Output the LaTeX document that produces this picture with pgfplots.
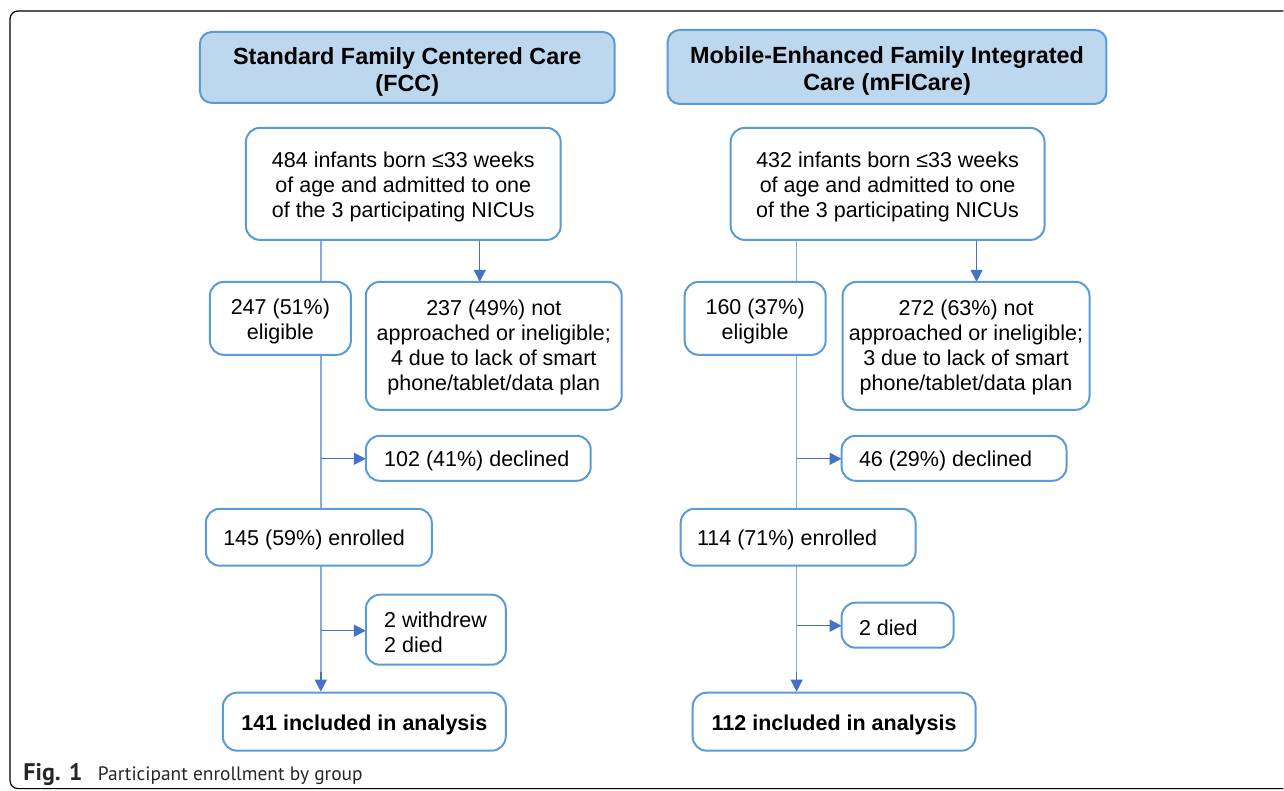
\documentclass[border=0pt]{standalone}
\usepackage{pgfplots}
\pgfplotsset{compat=1.18}
\usepackage{fontspec}
\setmainfont{Liberation Sans}
\newfontfamily\capfont{PT Sans}
\usetikzlibrary{arrows.meta}
\definecolor{hdrfill}{HTML}{BDD7EE}
\definecolor{bord}{HTML}{5B9BD5}
\definecolor{trunk}{HTML}{86A9DE}
\definecolor{arr}{HTML}{4472C4}
\begin{document}
\begin{tikzpicture}
\begin{axis}[hide axis, scale only axis, width=642pt, height=395.5pt,
  xmin=0, xmax=1284, ymin=0, ymax=791, y dir=reverse, clip=false]
\addplot[draw=none] coordinates {(0,0) (1284,791)};
% outer frame
\draw[black, line width=0.6pt, rounded corners=4pt] (axis cs:1284,11) -- (axis cs:10,11) -- (axis cs:10,789) -- (axis cs:1284,789);
\tikzset{bx/.style={draw=bord, line width=1pt, rounded corners=7pt, fill=white},
  hd/.style={draw=bord, line width=1pt, rounded corners=6pt, fill=hdrfill},
  tx/.style={font=\fontsize{10.75}{12.5}\selectfont, align=center, inner sep=0pt},
  txl/.style={font=\fontsize{10.75}{12.5}\selectfont, align=left, inner sep=0pt, anchor=west},
  tb/.style={font=\fontsize{11.7}{13.5}\selectfont\bfseries, align=center, inner sep=0pt},
  tr/.style={draw=trunk, line width=0.7pt},
  ar/.style={draw=arr, line width=0.7pt, -{Triangle[width=6pt,length=6pt]}}}
% ---------- trunks ----------
\draw[tr] (axis cs:321,240) -- (axis cs:321,672);
\draw[ar] (axis cs:321,672) -- (axis cs:321,692);
\draw[tr] (axis cs:797,240) -- (axis cs:797,672);
\draw[ar] (axis cs:797,672) -- (axis cs:797,692);
% side arrows left
\draw[ar] (axis cs:480,240) -- (axis cs:480,282);
\draw[ar] (axis cs:321,459) -- (axis cs:366,459);
\draw[ar] (axis cs:321,631) -- (axis cs:366,631);
% side arrows right
\draw[ar] (axis cs:977,240) -- (axis cs:977,282);
\draw[ar] (axis cs:797,459) -- (axis cs:842,459);
\draw[ar] (axis cs:797,626) -- (axis cs:842,626);
% ---------- left column ----------
\draw[hd] (axis cs:200,32) rectangle (axis cs:615,103);
\node[tb] at (axis cs:407.5,72) {Standard Family Centered Care\\(FCC)};
\draw[bx] (axis cs:246,128) rectangle (axis cs:561,240);
\node[tx] at (axis cs:403.5,187) {484 infants born ≤33 weeks\\of age and admitted to one\\of the 3 participating NICUs};
\draw[bx] (axis cs:210,282) rectangle (axis cs:351,355);
\node[tx] at (axis cs:280.5,322) {247 (51\%)\\eligible};
\draw[bx] (axis cs:366,282) rectangle (axis cs:622,410);
\node[tx] at (axis cs:494,348) {237 (49\%) not\\approached or ineligible;\\4 due to lack of smart\\phone/tablet/data plan};
\draw[bx] (axis cs:366,436) rectangle (axis cs:591,481);
\node[txl] at (axis cs:384,461) {102 (41\%) declined};
\draw[bx] (axis cs:206,509) rectangle (axis cs:432,566);
\node[txl] at (axis cs:223,540) {145 (59\%) enrolled};
\draw[bx] (axis cs:366,595) rectangle (axis cs:506,665);
\node[txl] at (axis cs:384,633) {2 withdrew\\2 died};
\draw[bx] (axis cs:223,693) rectangle (axis cs:506,751);
\node[tb, font=\fontsize{10.75}{12.5}\selectfont\bfseries] at (axis cs:364.5,725) {141 included in analysis};
% ---------- right column ----------
\draw[hd] (axis cs:668,30) rectangle (axis cs:1107,104);
\node[tb] at (axis cs:887.5,71) {Mobile-Enhanced Family Integrated\\Care (mFICare)};
\draw[bx] (axis cs:731,128) rectangle (axis cs:1045,240);
\node[tx] at (axis cs:888,187) {432 infants born ≤33 weeks\\of age and admitted to one\\of the 3 participating NICUs};
\draw[bx] (axis cs:685,282) rectangle (axis cs:826,355);
\node[tx] at (axis cs:755.5,322) {160 (37\%)\\eligible};
\draw[bx] (axis cs:843,282) rectangle (axis cs:1090,410);
\node[tx] at (axis cs:966.5,348) {272 (63\%) not\\approached or ineligible;\\3 due to lack of smart\\phone/tablet/data plan};
\draw[bx] (axis cs:842,436) rectangle (axis cs:1067,481);
\node[txl] at (axis cs:859,461) {46 (29\%) declined};
\draw[bx] (axis cs:681,509) rectangle (axis cs:916,566);
\node[txl] at (axis cs:697,540) {114 (71\%) enrolled};
\draw[bx] (axis cs:842,603) rectangle (axis cs:954,648);
\node[txl] at (axis cs:859,628) {2 died};
\draw[bx] (axis cs:693,693) rectangle (axis cs:976,751);
\node[tb, font=\fontsize{10.75}{12.5}\selectfont\bfseries] at (axis cs:834.5,725) {112 included in analysis};
% caption
\node[anchor=base west, inner sep=0pt, font=\capfont\fontsize{9.7}{12}\selectfont, text=black!85] at (axis cs:23,781) {{\fontsize{12}{13}\selectfont\textbf{Fig. 1}}\hspace{0.8em}Participant enrollment by group};
\end{axis}
\end{tikzpicture}
\end{document}
